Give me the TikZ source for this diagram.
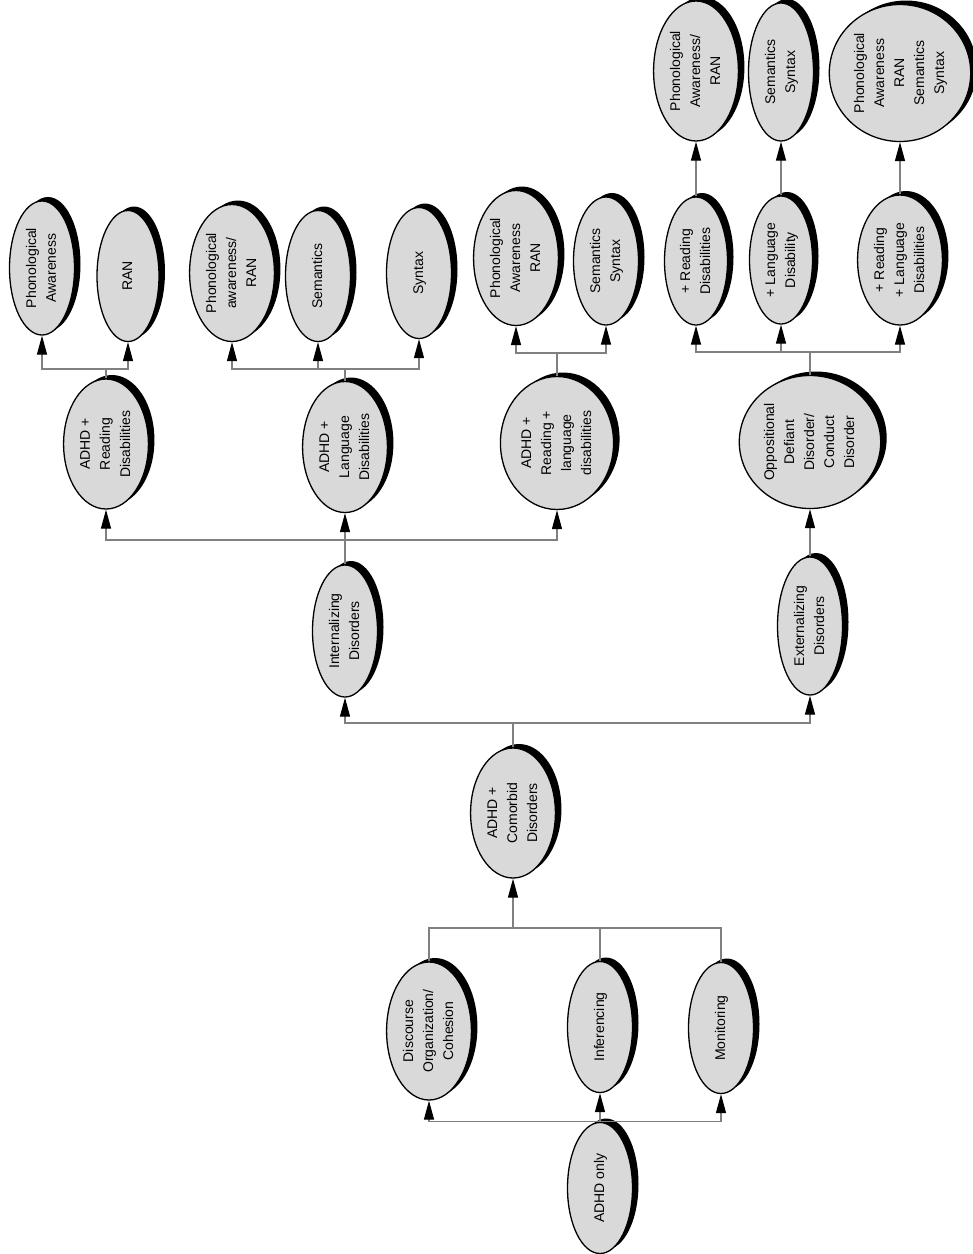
\documentclass[tikz,border=0pt]{standalone}
\usepackage{fontspec}
\setmainfont{Liberation Sans}
\usepackage{graphicx}
\usetikzlibrary{shapes.geometric,shadows,arrows.meta}
\newcommand{\vlabel}[1]{\rotatebox{90}{\begin{tabular}{@{}c@{}}#1\end{tabular}}}

\begin{document}
\begin{tikzpicture}[
			x=1pt, y=-1pt,
			oval/.style={ellipse, draw=black, line width=1.3pt, fill=black!15, inner sep=0pt,
					minimum width=65pt, minimum height=131pt,
					general shadow={shadow xshift=6pt, shadow yshift=4pt, fill=black},
					font=\fontsize{14}{20}\selectfont},
			link/.style={draw=black!50, line width=1.2pt},
			arr/.style={link, -{Triangle[length=19pt, width=10pt, color=black]}}
		]
		\useasboundingbox (0,0) rectangle (973,1254);

		% top row
		\node[oval, minimum height=134pt] (pa1) at (42,268) {\vlabel{Phonological\\Awareness}};
		\node[oval, minimum width=62pt] (ran1) at (128,276) {\vlabel{RAN}};
		\node[oval, minimum width=81pt, minimum height=137pt] (parl) at (232,273) {\vlabel{Phonological\\awareness/\\RAN}};
		\node[oval] (sem2) at (318,276) {\vlabel{Semantics}};
		\node[oval] (syn2) at (419,273) {\vlabel{Syntax}};
		\node[oval, minimum width=84pt, minimum height=135pt] (pa3) at (516,258) {\vlabel{Phonological\\Awareness\\RAN}};
		\node[oval, minimum height=128pt] (ss3) at (606,261) {\vlabel{Semantics\\Syntax}};
		\node[oval, minimum width=73pt, minimum height=140pt] (pa4) at (696,71) {\vlabel{Phonological\\Awareness/\\RAN}};
		\node[oval, minimum height=138pt] (ss4) at (781,72) {\vlabel{Semantics\\Syntax}};
		\node[oval, minimum width=135pt, minimum height=137pt] (all4) at (900,73) {\vlabel{Phonological\\Awareness\\RAN\\Semantics\\Syntax}};
		\node[oval, minimum width=63pt, minimum height=128pt] (rd4) at (696,261) {\vlabel{+ Reading\\Disabilities}};
		\node[oval, minimum width=63pt, minimum height=128pt] (ld4) at (781,260) {\vlabel{+ Language\\Disability}};
		\node[oval, minimum width=78pt, minimum height=130pt] (rld4) at (900,260) {\vlabel{+ Reading\\+ Language\\Disabilities}};

		% middle rows
		\node[oval, minimum width=83pt, minimum height=130pt] (ar) at (106,444) {\vlabel{ADHD +\\Reading\\Disabilities}};
		\node[oval, minimum width=80pt] (al) at (345,447) {\vlabel{ADHD +\\Language\\Disabilities}};
		\node[oval, minimum width=105pt, minimum height=133pt] (arl) at (557,443) {\vlabel{ADHD +\\Reading +\\language\\disabilities}};
		\node[oval, minimum width=140pt, minimum height=133pt] (odd) at (810,442) {\vlabel{Oppositional\\Defiant\\Disorder/\\Conduct\\Disorder}};
		\node[oval, minimum height=132pt] (int) at (345,631) {\vlabel{Internalizing\\Disorders}};
		\node[oval, minimum height=138pt] (ext) at (810,626) {\vlabel{Externalizing\\Disorders}};
		\node[oval, minimum width=83pt, minimum height=130pt] (com) at (513,813) {\vlabel{ADHD +\\Comorbid\\Disorders}};

		% bottom rows
		\node[oval, minimum width=80pt, minimum height=138pt] (dis) at (429,1031) {\vlabel{Discourse\\Organization/\\Cohesion}};
		\node[oval] (inf) at (600,1027) {\vlabel{Inferencing}};
		\node[oval] (mon) at (721,1028) {\vlabel{Monitoring}};
		\node[oval] (only) at (600,1188) {\vlabel{ADHD only}};

		% bus points
		\coordinate (ra) at (106,369);
		\coordinate (la) at (345,369);
		\coordinate (rla) at (557,353);
		\coordinate (oa) at (810,352);
		\coordinate (ii) at (345,540);
		\coordinate (ci) at (513,723);
		\coordinate (cb) at (513,928);

		% connectors
		\draw[link] (ar.north) -- (ra);
		\draw[arr] (ra) -| (pa1.south);
		\draw[arr] (ra) -| (ran1.south);
		\draw[link] (al.north) -- (la);
		\draw[arr] (la) -| (parl.south);
		\draw[arr] (la) -| (sem2.south);
		\draw[arr] (la) -| (syn2.south);
		\draw[link] (arl.north) -- (rla);
		\draw[arr] (rla) -| (pa3.south);
		\draw[arr] (rla) -| (ss3.south);
		\draw[link] (odd.north) -- (oa);
		\draw[arr] (oa) -| (rd4.south);
		\draw[arr] (oa) -| (ld4.south);
		\draw[arr] (oa) -| (rld4.south);
		\draw[arr] (rd4.north) -- (pa4.south);
		\draw[arr] (ld4.north) -- (ss4.south);
		\draw[arr] (rld4.north) -- (all4.south);
		\draw[link] (int.north) -- (ii);
		\draw[arr] (ii) -| (ar.south);
		\draw[arr] (ii) -- (al.south);
		\draw[arr] (ii) -| (arl.south);
		\draw[arr] (ext.north) -- (odd.south);
		\draw[link] (com.north) -- (ci);
		\draw[arr] (ci) -| (int.south);
		\draw[arr] (ci) -| (ext.south);
		\draw[link] (dis.north) |- (cb);
		\draw[link] (mon.north) |- (cb);
		\draw[link] (inf.north) -- (inf.north |- cb);
		\draw[arr] (cb) -- (com.south);
		\draw[arr] (only.north) -| (dis.south);
		\draw[arr] (only.north) -- (inf.south);
		\draw[arr] (only.north) -| (mon.south);
	\end{tikzpicture}
\end{document}
